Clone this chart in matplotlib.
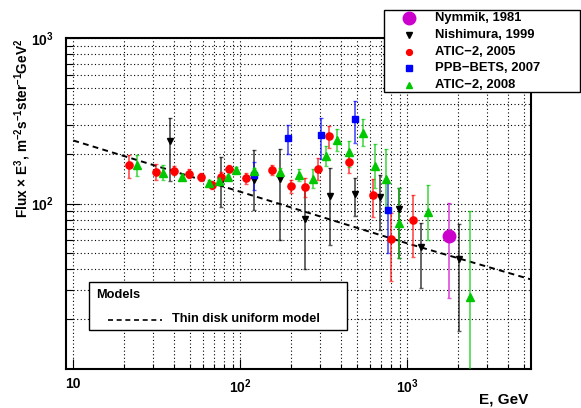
# -*- coding: utf-8 -*-
"""
Spectrum plot: Flux x E^3 versus energy for several measurements,
with the thin-disk uniform model drawn as a dashed line.
"""
import matplotlib
matplotlib.use("Agg")
import matplotlib.pyplot as plt
from matplotlib.lines import Line2D
from matplotlib.patches import Rectangle
from matplotlib.ticker import FixedLocator, FixedFormatter, NullFormatter

plt.rcParams["font.family"] = ["Liberation Sans", "DejaVu Sans"]
plt.rcParams["font.weight"] = "bold"
plt.rcParams["mathtext.fontset"] = "custom"
plt.rcParams["mathtext.rm"] = "Liberation Sans:bold"
plt.rcParams["mathtext.it"] = "Liberation Sans:bold"
plt.rcParams["mathtext.bf"] = "Liberation Sans:bold"

# ---------------------------------------------------------------------
# data: energy (GeV), flux*E^3, lower and upper error limits
# ---------------------------------------------------------------------
nym_E = [1765]
nym_F = [63.5]
nym_lo = [27.0]
nym_hi = [101.0]

nish_E = [37.9, 76.3, 120.8, 172.2, 244.9, 344.4, 482.9, 689, 894.3, 1211, 2048]
nish_F = [237.7, 136.0, 139.6, 140.9, 80.9, 111.7, 114.9, 109.8, 92.9, 54.6, 46.4]
nish_lo = [137.6, 95.5, 92.0, 60.6, 40.0, 56.6, 83.8, 69.7, 47.0, 31.0, 17.0]
nish_hi = [329.0, 190.2, 211.8, 214.0, 127.2, 164.2, 142.9, 149.6, 124.4, 76.5, 75.4]

atic05_E = [21.6, 31.1, 40.3, 49.0, 58.2, 67.7, 76.3, 85.6, 108.2, 155.5,
            201.2, 245.3, 292.0, 338.2, 445.9, 620.5, 802.1, 1082]
atic05_F = [170.2, 155.4, 158.2, 151.7, 144.3, 130.2, 144.9, 162.7, 142.8, 160.4,
            127.2, 126.1, 162.7, 257.3, 177.5, 112.2, 61.1, 80.1]
atic05_lo = [143.6, 138.2, 148.2, 143.6, 136.3, 123.0, 136.3, 154.5, 132.0, 149.6,
             116.5, 110.2, 139.6, 217.8, 153.2, 83.5, 34.0, 47.7]
atic05_hi = [197.5, 174.3, 168.0, 162.0, 153.7, 136.3, 154.5, 171.9, 153.7, 171.9,
             139.6, 143.6, 189.5, 295.6, 197.5, 141.5, 88.2, 113.4]

ppb_E = [120.8, 193.9, 305.5, 482.9, 768.5]
ppb_F = [149.6, 250.2, 258.4, 325.8, 92.0]
ppb_lo = [121.5, 200.3, 186.9, 232.5, 50.4]
ppb_hi = [177.5, 299.8, 329.0, 420.1, 133.4]

atic08_E = [24.0, 34.3, 44.5, 64.8, 74.9, 84.4, 93.9, 120.8, 172.2, 223.1,
            272.5, 326.1, 377.8, 445.9, 545.1, 643.2, 745.6, 894.3, 1336, 2373]
atic08_F = [170.2, 153.9, 144.9, 133.4, 136.3, 144.6, 160.4, 157.1, 156.1, 148.2,
            141.5, 193.4, 241.6, 204.5, 267.1, 168.0, 141.5, 76.3, 88.6, 27.3]
atic08_lo = [147.6, 138.2, 139.6, 128.4, 130.2, 139.6, 153.9, 149.6, 147.6, 136.3,
             124.9, 168.0, 206.8, 166.6, 223.9, 124.1, 89.5, 47.0, 60.1, 9.0]
atic08_hi = [197.5, 170.2, 151.7, 139.6, 141.5, 149.6, 167.3, 164.9, 164.9, 162.0,
             162.7, 221.7, 283.6, 237.7, 325.8, 230.2, 214.8, 124.4, 129.0, 90.7]

model_E = [10, 100, 1000, 5500]
model_F = [241.0, 118.0, 57.5, 34.8]

x_major = [10, 100, 1000]
x_major_lbl = ["10", r"10$^{2}$", r"10$^{3}$"]
y_major = [100, 1000]
y_major_lbl = [r"10$^{2}$", r"10$^{3}$"]
x_minor = [20, 30, 40, 50, 60, 70, 80, 90, 200, 300, 400, 500, 600, 700, 800, 900,
           2000, 3000, 4000, 5000]
y_minor = [20, 30, 40, 50, 60, 70, 80, 90, 200, 300, 400, 500, 600, 700, 800, 900]

series = [
    ("Nishimura, 1999", nish_E, nish_F, nish_lo, nish_hi, "black", "v", 5.0),
    ("ATIC\u22122, 2005", atic05_E, atic05_F, atic05_lo, atic05_hi, "#ff0000", "o", 5.2),
    ("PPB\u2212BETS, 2007", ppb_E, ppb_F, ppb_lo, ppb_hi, "#0000ff", "s", 5.0),
    ("ATIC\u22122, 2008", atic08_E, atic08_F, atic08_lo, atic08_hi, "#00c800", "^", 5.5),
    ("Nymmik, 1981", nym_E, nym_F, nym_lo, nym_hi, "#cc00cc", "o", 9.0),
]

W, H = 581, 408
fig = plt.figure(figsize=(W / 100, H / 100), dpi=100)
ax = fig.add_axes([66 / W, 1 - 369 / H, (530.7 - 66) / W, (369 - 38.3) / H])
ax.set_xscale("log")
ax.set_yscale("log")
ax.set_xlim(9.04, 5480)
ax.set_ylim(10, 1000)

# grid on every tick, ROOT style
for v in x_major + x_minor:
    ax.axvline(v, color="black", lw=0.8, ls=(0, (1, 2.2)), zorder=0)
for v in y_major + y_minor:
    ax.axhline(v, color="black", lw=0.8, ls=(0, (1, 2.2)), zorder=0)

# model
ax.plot(model_E, model_F, color="black", lw=1.4, ls=(0, (3, 2.2)), zorder=2)

# measurements
for nome, E, F, lo, hi, cor, mk, ms in series:
    yerr = [[f - l for f, l in zip(F, lo)], [h - f for f, h in zip(F, hi)]]
    ax.errorbar(E, F, yerr=yerr, fmt="none", ecolor=cor, alpha=0.65,
                elinewidth=1.3, capsize=1.6, capthick=1.0, zorder=3)
    ax.plot(E, F, ls="none", marker=mk, ms=ms, color=cor, mec=cor, zorder=4)

# axes / ticks
ax.xaxis.set_major_locator(FixedLocator(x_major))
ax.xaxis.set_major_formatter(FixedFormatter(x_major_lbl))
ax.xaxis.set_minor_locator(FixedLocator(x_minor))
ax.xaxis.set_minor_formatter(NullFormatter())
ax.yaxis.set_major_locator(FixedLocator(y_major))
ax.yaxis.set_major_formatter(FixedFormatter(y_major_lbl))
ax.yaxis.set_minor_locator(FixedLocator(y_minor))
ax.yaxis.set_minor_formatter(NullFormatter())
ax.tick_params(axis="both", which="both", direction="in", width=0.8,
               labelsize=10, top=False, right=False)
ax.tick_params(axis="x", which="major", length=7.2, pad=6)
ax.tick_params(axis="x", which="minor", length=3.6)
ax.tick_params(axis="y", which="major", length=10, pad=9)
ax.tick_params(axis="y", which="minor", length=5)
for s in ax.spines.values():
    s.set_linewidth(1.5)

ax.set_ylabel(r"Flux $\times$ E$^{3}$, m$^{-2}$s$^{-1}$ster$^{-1}$GeV$^{2}$",
              fontsize=9.8, fontweight="bold", loc="top")
ax.yaxis.set_label_coords((33 - 66) / 464.7, 1.0)
ax.set_xlabel("E, GeV", fontsize=11, fontweight="bold", loc="right")
ax.xaxis.set_label_coords(0.995, -0.072)

# legend of measurements (top right box)
fig.add_artist(Rectangle((384 / W, 1 - 92 / H), (580 - 384) / W, (92 - 10) / H,
                         transform=fig.transFigure, facecolor="white",
                         edgecolor="black", lw=1.0, zorder=10))
leg_y = [18.3, 34.8, 51.6, 68.3, 84.6]
leg_ordem = [4, 0, 1, 2, 3]
for yy, i in zip(leg_y, leg_ordem):
    nome, E, F, lo, hi, cor, mk, ms = series[i]
    fig.add_artist(Line2D([409 / W], [1 - yy / H], transform=fig.transFigure,
                          ls="none", marker=mk, ms=(9 if i == 4 else 4.2),
                          color=cor, zorder=11))
    fig.text(435 / W, 1 - yy / H, nome, fontsize=9.4, fontweight="bold",
             ha="left", va="center", zorder=11)

# legend of models (lower left box)
fig.add_artist(Rectangle((89.3 / W, 1 - 330 / H), (346.7 - 89.3) / W, (330 - 281.7) / H,
                         transform=fig.transFigure, facecolor="white",
                         edgecolor="black", lw=1.0, zorder=10))
fig.text(96 / W, 1 - 294.5 / H, "Models", fontsize=9.2, fontweight="bold",
         ha="left", va="center", zorder=11)
fig.add_artist(Line2D([108 / W, 162 / W], [1 - 319.5 / H, 1 - 319.5 / H],
                      transform=fig.transFigure, color="black", lw=1.2,
                      ls=(0, (3, 2.2)), zorder=11))
fig.text(171.7 / W, 1 - 319.5 / H, "Thin disk uniform model", fontsize=9.2,
         fontweight="bold", ha="left", va="center", zorder=11)

fig.savefig("out.png", dpi=100)
